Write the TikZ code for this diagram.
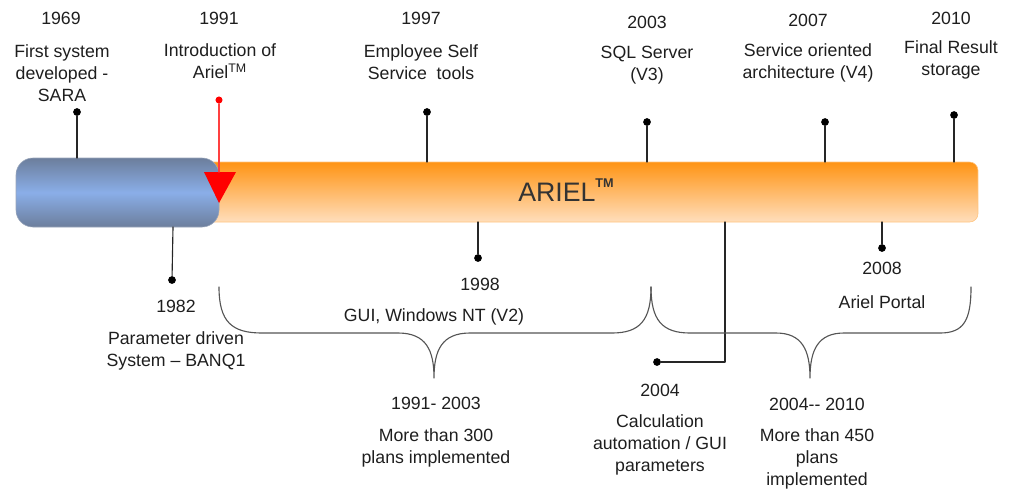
\documentclass[tikz,border=0pt]{standalone}
\usepackage{fontspec}
\setmainfont{Liberation Sans}
\definecolor{tlslate}{RGB}{108,126,156}
\definecolor{tlblue}{RGB}{138,174,232}
\definecolor{tlorange}{RGB}{255,148,20}
\definecolor{tlpeach}{RGB}{255,222,188}
\definecolor{tltext}{RGB}{30,30,30}
\definecolor{tlbrace}{RGB}{85,85,85}
\begin{document}
\begin{tikzpicture}[line cap=round,line join=round,x=0.025cm,y=-0.025cm,
  pin/.style={circle,fill=black,inner sep=0pt,minimum size=5.5pt},
  redpin/.style={circle,fill=red,inner sep=0pt,minimum size=5pt},
  stem/.style={draw=black!85,line width=0.8pt},
  lbl/.style={align=center,text=tltext,inner sep=0pt,font=\fontsize{12.6}{15.6}\selectfont},
  brace/.style={draw=tlbrace,line width=0.8pt}]
\useasboundingbox (0,0) rectangle (1016,489);
\shade[top color=tlorange,bottom color=tlpeach,draw=tlorange!55,rounded corners=6] (200,162) rectangle (978,222);
\shade[top color=tlslate,bottom color=tlslate,middle color=tlblue,draw=tlslate!70,rounded corners=12] (16,158) rectangle (219,227);
\node[text=black!80,inner sep=0pt] (ariel) at (566,190) {\fontsize{19}{19}\selectfont ARIEL\raisebox{0.55em}{\fontsize{9}{9}\selectfont\bfseries TM}};
\fill[red] (204,172) -- (236,172) -- (219,203) -- cycle;
\node[redpin] (p91) at (219,100) {};
\coordinate (b91) at (219,172);
\draw[red!75,line width=0.9pt] (p91) -- (b91);
\node[pin] (p69) at (77,112) {};
\coordinate (b69) at (77,158);
\node[pin] (p97) at (427,112) {};
\coordinate (b97) at (427,162);
\node[pin] (p03) at (647,122) {};
\coordinate (b03) at (647,162);
\node[pin] (p07) at (825,122) {};
\coordinate (b07) at (825,162);
\node[pin] (p10) at (954,115) {};
\coordinate (b10) at (954,162);
\node[pin] (p82) at (172,280) {};
\coordinate (b82) at (173,227);
\node[pin] (p98) at (478,258) {};
\coordinate (b98) at (478,222);
\node[pin] (p08) at (882,248) {};
\coordinate (b08) at (882,222);
\node[pin] (p04) at (657,362) {};
\coordinate (b04) at (725,222);
\draw[stem] (p69) -- (b69);
\draw[stem] (p97) -- (b97);
\draw[stem] (p03) -- (b03);
\draw[stem] (p07) -- (b07);
\draw[stem] (p10) -- (b10);
\draw[stem] (b82) -- (p82);
\draw[stem] (b98) -- (p98);
\draw[stem] (b08) -- (p08);
\draw[stem] (b04) |- (p04);
\draw[brace] (219,287) .. controls (219,322) and (232,333) .. (262,333) -- (398,333) .. controls (426,333) and (434,350) .. (434,378) .. controls (434,350) and (442,333) .. (470,333) -- (612,333) .. controls (640,333) and (651,320) .. (651,287);
\draw[brace] (651,287) .. controls (651,320) and (662,333) .. (690,333) -- (776,333) .. controls (802,333) and (810,350) .. (810,378) .. controls (810,350) and (818,333) .. (844,333) -- (940,333) .. controls (964,333) and (971,320) .. (971,287);
\node[lbl] (y69) at (61,18) {1969};
\node[lbl] (t69) at (62,73) {First system\\developed -\\SARA};
\node[lbl] (y91) at (219,18) {1991};
\node[lbl] (t91) at (220,61) {Introduction of\\Ariel\textsuperscript{TM}};
\node[lbl] (y97) at (421,18) {1997};
\node[lbl] (t97) at (421,62) {Employee Self\\Service~ tools};
\node[lbl] (y03) at (647,22) {2003};
\node[lbl] (t03) at (647,65) {SQL Server\\(V3)};
\node[lbl] (y07) at (808,20) {2007};
\node[lbl] (t07) at (808,63) {Service oriented\\architecture (V4)};
\node[lbl] (y10) at (951,18) {2010};
\node[lbl] (t10) at (951,60) {Final Result\\storage};
\node[lbl] (y82) at (176,306) {1982};
\node[lbl] (t82) at (176,351) {Parameter driven\\System – BANQ1};
\node[lbl] (y98) at (480,284) {1998};
\node[lbl] (t98) at (434,317) {GUI, Windows NT (V2)};
\node[lbl] (y08) at (882,268) {2008};
\node[lbl] (t08) at (882,302) {Ariel Portal};
\node[lbl] (y04) at (660,390) {2004};
\node[lbl] (t04) at (660,445) {Calculation\\automation / GUI\\parameters};
\node[lbl] (r1) at (436,403) {1991- 2003};
\node[lbl] (s1) at (436,448) {More than 300\\plans implemented};
\node[lbl] (r2) at (817,404) {2004{-}{-} 2010};
\node[lbl] (s2) at (817,459) {More than 450\\plans\\implemented};
\end{tikzpicture}
\end{document}
